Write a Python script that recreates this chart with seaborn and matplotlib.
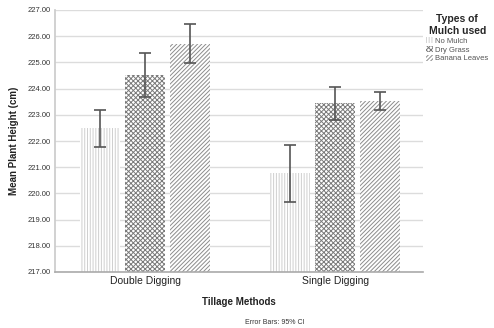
import matplotlib
matplotlib.use("Agg")
import matplotlib.pyplot as plt
import seaborn as sns
import pandas as pd
import numpy as np
from matplotlib.patches import Patch

tillage = ["Double Digging", "Single Digging"]
mulch = ["No Mulch", "Dry Grass", "Banana Leaves"]
mean_double = [222.48, 224.52, 225.70]
mean_single = [220.78, 223.44, 223.54]
ci_low_double = [221.77, 223.68, 224.98]
ci_high_double = [223.18, 225.36, 226.47]
ci_low_single = [219.67, 222.80, 223.18]
ci_high_single = [221.85, 224.07, 223.87]
yticks = [217, 218, 219, 220, 221, 222, 223, 224, 225, 226, 227]

rows = []
for t, means, lo, hi in [(tillage[0], mean_double, ci_low_double, ci_high_double),
                         (tillage[1], mean_single, ci_low_single, ci_high_single)]:
    for m, v, l, h in zip(mulch, means, lo, hi):
        rows.append({"Tillage": t, "Mulch": m, "Mean": v, "Lo": l, "Hi": h})
df = pd.DataFrame(rows)

sns.set_theme(style="white")
plt.rcParams["font.family"] = ["Liberation Sans", "DejaVu Sans"]
plt.rcParams["hatch.linewidth"] = 0.7

fig = plt.figure(figsize=(4.94, 3.28), dpi=100)
ax = fig.add_axes([55/494, 1 - 272/328, 368/494, 262/328])

palette = {m: "white" for m in mulch}
sns.barplot(data=df, x="Tillage", y="Mean", hue="Mulch", hue_order=mulch,
            order=tillage, palette=palette, errorbar=None, width=0.71, gap=0.11,
            ax=ax, legend=False, zorder=2)

bar_containers = list(ax.containers)
hatches = ["||||||", "xxxxxxx", "////////"]
hcolors = ["#cfcfcf", "#7a7a7a", "#8c8c8c"]
for ci, container in enumerate(bar_containers):
    for bar in container:
        bar.set_hatch(hatches[ci])
        bar.set_edgecolor(hcolors[ci])
        bar.set_linewidth(0)
        bar.set_facecolor("white")

# error bars
for ci, container in enumerate(bar_containers):
    m = mulch[ci]
    for ti, bar in enumerate(container):
        row = df[(df.Tillage == tillage[ti]) & (df.Mulch == m)].iloc[0]
        xc = bar.get_x() + bar.get_width() / 2
        ax.errorbar([xc], [row.Mean], yerr=[[row.Mean - row.Lo], [row.Hi - row.Mean]],
                    fmt="none", ecolor="#555555", elinewidth=1.2, capsize=4.5,
                    capthick=1.2, zorder=4)

ax.set_ylim(217, 227)
ax.set_yticks(yticks)
ax.set_yticklabels([f"{v:.2f}" for v in yticks], fontsize=5.5, color="#333333")
ax.set_xlim(-0.476, 1.461)
ax.tick_params(axis="x", labelsize=7.5, colors="#222222", length=0, pad=3)
ax.tick_params(axis="y", length=0, pad=3)
ax.yaxis.grid(True, color="#dcdcdc", linewidth=1.0, zorder=0)
ax.set_axisbelow(True)
for s in ["top", "right"]:
    ax.spines[s].set_visible(False)
ax.spines["left"].set_color("#cccccc")
ax.spines["bottom"].set_color("#aaaaaa")
ax.spines["bottom"].set_linewidth(1.2)

ax.set_ylabel("Mean Plant Height (cm)", fontsize=7, fontweight="bold", color="#222222", labelpad=6)
ax.set_xlabel("Tillage Methods", fontsize=7, fontweight="bold", color="#222222", labelpad=8)

handles = [Patch(facecolor="white", edgecolor=hcolors[i], hatch=hatches[i], linewidth=0, label=mulch[i])
           for i in range(3)]
leg = fig.legend(handles=handles, title="Types of\nMulch used", loc="upper left",
                 bbox_to_anchor=(426/494, 1 - 14/328), frameon=False, fontsize=5.5,
                 title_fontproperties={"weight": "bold", "size": 7.5},
                 handlelength=0.9, handleheight=0.9, handletextpad=0.3, labelspacing=0.15,
                 borderaxespad=0, borderpad=0, alignment="center")
leg.get_title().set_multialignment("center")
plt.setp(leg.get_texts(), color="#555555")

fig.text(275/494, 1 - 322/328, "Error Bars: 95% CI", fontsize=5, ha="center", va="center", color="#333333")

fig.savefig("out.png", dpi=100)
